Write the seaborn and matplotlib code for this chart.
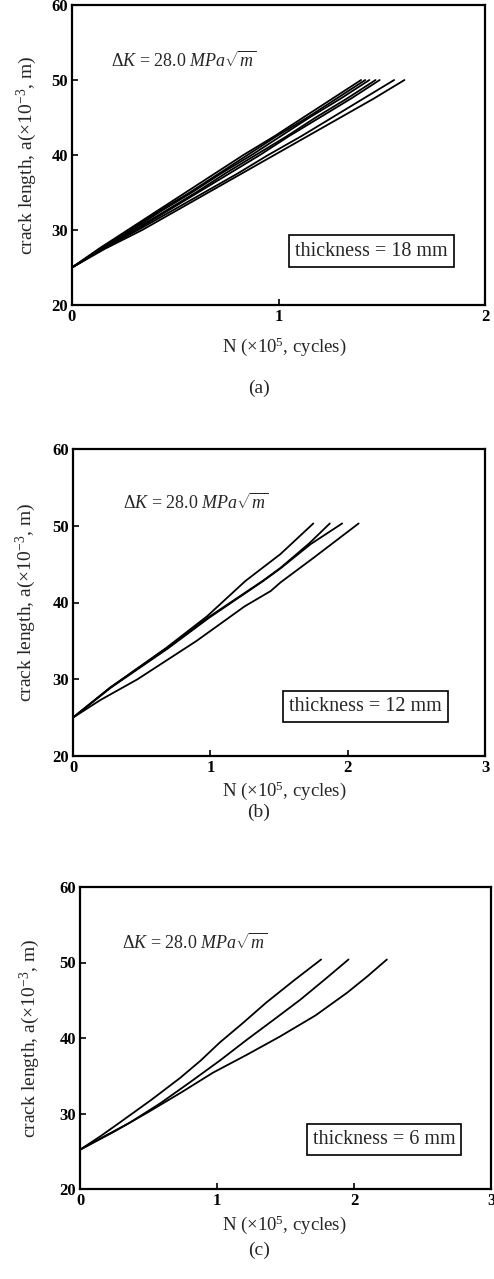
import matplotlib
matplotlib.use("Agg")
import matplotlib.pyplot as plt
import seaborn as sns
import pandas as pd

# ---------------- data ----------------
# panel (a): thickness 18 mm, crack length a (x10^-3 m) vs N (x10^5 cycles)
a18 = [25, 27.5, 30, 32.5, 35, 37.5, 40, 42.5, 45, 47.5, 50]
n18_1 = [0, 0.13, 0.27, 0.41, 0.55, 0.69, 0.83, 0.98, 1.12, 1.26, 1.40]
n18_2 = [0, 0.14, 0.28, 0.42, 0.57, 0.71, 0.85, 0.99, 1.14, 1.28, 1.42]
n18_3 = [0, 0.14, 0.29, 0.43, 0.58, 0.72, 0.87, 1.01, 1.15, 1.30, 1.44]
n18_4 = [0, 0.15, 0.30, 0.45, 0.60, 0.74, 0.89, 1.04, 1.18, 1.33, 1.47]
n18_5 = [0, 0.15, 0.31, 0.46, 0.61, 0.76, 0.91, 1.05, 1.20, 1.35, 1.49]
n18_6 = [0, 0.15, 0.32, 0.48, 0.64, 0.80, 0.95, 1.11, 1.26, 1.41, 1.56]
n18_7 = [0, 0.16, 0.34, 0.50, 0.66, 0.82, 0.98, 1.14, 1.30, 1.46, 1.61]

# panel (b): thickness 12 mm
a12_1 = [25, 28.9, 34.1, 38.2, 42.8, 46.3, 50.3]
n12_1 = [0, 0.27, 0.68, 0.976, 1.255, 1.51, 1.75]
a12_2 = [25, 28.9, 34.0, 38.0, 42.8, 44.5, 47.7, 50.3]
n12_2 = [0, 0.27, 0.68, 0.98, 1.38, 1.51, 1.72, 1.87]
a12_3 = [25, 28.9, 34.0, 38.0, 42.8, 44.5, 47.6, 50.3]
n12_3 = [0, 0.275, 0.69, 0.99, 1.385, 1.515, 1.73, 1.96]
a12_4 = [25, 27.3, 30, 35, 39.5, 41.5, 42.6, 45.8, 50.3]
n12_4 = [0, 0.20, 0.47, 0.90, 1.25, 1.44, 1.51, 1.75, 2.08]

# panel (c): thickness 6 mm
a6_1 = [25.2, 27.0, 28.8, 31.8, 34.7, 37.0, 39.4, 42.0, 44.7, 47.6, 50.4]
n6_1 = [0, 0.15, 0.29, 0.52, 0.73, 0.88, 1.02, 1.19, 1.36, 1.56, 1.76]
a6_2 = [25.2, 27.0, 28.8, 31.4, 34.1, 37.0, 39.8, 42.5, 45.1, 47.8, 50.4]
n6_2 = [0, 0.18, 0.365, 0.59, 0.80, 1.02, 1.22, 1.42, 1.61, 1.79, 1.96]
a6_3 = [25.2, 27.5, 30.1, 32.8, 35.4, 37.8, 40.2, 43.0, 46.0, 48.2, 50.4]
n6_3 = [0, 0.24, 0.49, 0.74, 0.97, 1.22, 1.46, 1.72, 1.95, 2.10, 2.24]

panels = [
    dict(curves=[(n18_1, a18), (n18_2, a18), (n18_3, a18), (n18_4, a18),
                 (n18_5, a18), (n18_6, a18), (n18_7, a18)],
         xmax=2, xticks=[0, 1, 2], label="thickness = 18 mm", tag="(a)",
         rect_px=(72, 5, 485, 305), dk_pos=(0.19, 52.5), box_pos=(1.45, 27.2),
         xl_y=347, tag_y=388, yl_x=27),
    dict(curves=[(n12_1, a12_1), (n12_2, a12_2), (n12_3, a12_3), (n12_4, a12_4)],
         xmax=3, xticks=[0, 1, 2, 3], label="thickness = 12 mm", tag="(b)",
         rect_px=(73, 449, 485, 756), dk_pos=(0.365, 53.0), box_pos=(2.13, 26.4),
         xl_y=791, tag_y=812, yl_x=26),
    dict(curves=[(n6_1, a6_1), (n6_2, a6_2), (n6_3, a6_3)],
         xmax=3, xticks=[0, 1, 2, 3], label="thickness = 6 mm", tag="(c)",
         rect_px=(80, 887, 491, 1189), dk_pos=(0.31, 52.6), box_pos=(2.22, 26.6),
         xl_y=1225, tag_y=1250, yl_x=30),
]

# ---------------- style ----------------
sns.set_theme(style="ticks")
plt.rcParams["font.family"] = ["Liberation Serif", "DejaVu Serif"]
plt.rcParams["mathtext.fontset"] = "custom"
plt.rcParams["mathtext.rm"] = "Liberation Serif"
plt.rcParams["mathtext.it"] = "Liberation Serif:italic"
plt.rcParams["mathtext.bf"] = "Liberation Serif:bold"

W, H = 494, 1279
fig = plt.figure(figsize=(W / 100, H / 100), dpi=100)
fig.patch.set_facecolor("white")

for p in panels:
    l, t, r, b = p["rect_px"]
    ax = fig.add_axes([l / W, 1 - b / H, (r - l) / W, (b - t) / H])
    rows = []
    for i, (ns, as_) in enumerate(p["curves"]):
        for k, (n, a) in enumerate(zip(ns, as_)):
            rows.append({"N": n, "a": a, "curve": i, "order": k})
    df = pd.DataFrame(rows)
    sns.lineplot(data=df, x="N", y="a", units="curve", estimator=None,
                 sort=False, color="black", linewidth=1.3, ax=ax, legend=False)
    ax.set_xlim(0, p["xmax"])
    ax.set_ylim(20, 60)
    ax.set_xticks(p["xticks"])
    ax.set_yticks([20, 30, 40, 50, 60])
    ax.tick_params(direction="in", length=4, width=1.2, labelsize=12,
                   colors="black")
    ax.tick_params(axis="y", pad=3)
    ax.tick_params(axis="x", pad=3)
    for lab in ax.get_xticklabels() + ax.get_yticklabels():
        lab.set_fontweight("bold")
    for s in ax.spines.values():
        s.set_visible(True)
        s.set_linewidth(1.6)
        s.set_color("black")
    ax.set_xlabel("")
    ax.set_ylabel("")
    ax.text(p["dk_pos"][0], p["dk_pos"][1],
            r"$\mathit{\Delta K}$ = 28.0 $\mathit{MPa}\sqrt{\mathit{m}}$",
            fontsize=13, ha="left", va="center")
    ax.text(p["box_pos"][0], p["box_pos"][1], p["label"], fontsize=14.5,
            ha="center", va="center",
            bbox=dict(boxstyle="square,pad=0.3", facecolor="white",
                      edgecolor="black", linewidth=1.2))
    # axis labels and panel tag
    fig.text(p["yl_x"] / W, 1 - ((t + b) / 2) / H,
             r"crack length, a($\times$10$^{-3}$, m)",
             rotation=90, fontsize=14, ha="center", va="center")
    fig.text(284 / W, 1 - p["xl_y"] / H, r"N ($\times$10$^5$, cycles)",
             fontsize=13.5, ha="center", va="center")
    fig.text(259 / W, 1 - p["tag_y"] / H, p["tag"], fontsize=14,
             ha="center", va="center")

fig.savefig("out.png", dpi=100, facecolor="white")
